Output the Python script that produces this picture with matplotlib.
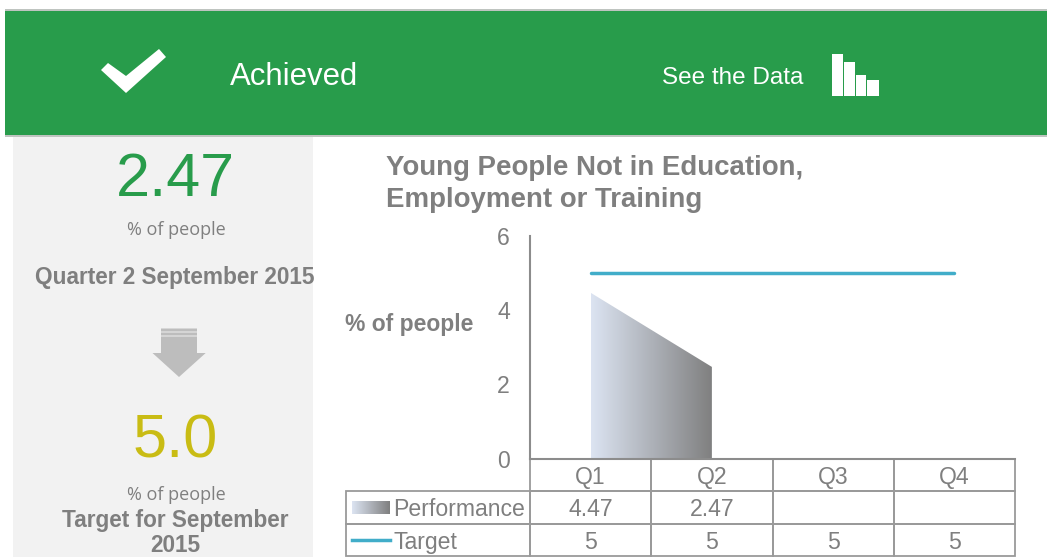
import numpy as np
import matplotlib
matplotlib.use('Agg')
from matplotlib import pyplot as plt
from matplotlib.colors import LinearSegmentedColormap
from matplotlib.patches import Polygon, Rectangle

# Data
quarters = ['Q1', 'Q2', 'Q3', 'Q4']
performance = [4.47, 2.47, None, None]
target = [5, 5, 5, 5]
y_ticks = [0, 2, 4, 6]

GREEN = '#289C4B'
GREY = '#7F7F7F'
W, H = 1047, 557
plt.rcParams['font.family'] = ['Liberation Sans', 'DejaVu Sans']

fig = plt.figure(figsize=(W / 100, H / 100), dpi=100)

# Page layer, in pixels
bg = fig.add_axes([0, 0, 1, 1])
bg.set_xlim(0, W)
bg.set_ylim(H, 0)
bg.axis('off')

bg.add_patch(Rectangle((13, 137), 300, 420, fc='#F2F2F2', ec='none'))
bg.add_patch(Rectangle((5, 9), 1042, 128, fc='#BFC4C0', ec='none'))
bg.add_patch(Rectangle((5, 10.5), 1042, 124, fc=GREEN, ec='none'))

# tick mark, bar icon, arrow
bg.add_patch(Polygon([(101, 70), (108, 63), (126, 76), (159, 49), (166, 57), (126, 93)],
                     fc='white', ec='none'))
for x0, top, w in [(832, 53.5, 10.5), (843.5, 62, 11), (856, 75, 9.5), (867, 80, 11.5)]:
    bg.add_patch(Rectangle((x0, top), w, 95.7 - top, fc='white', ec='none'))
bg.add_patch(Polygon([(161, 328.5), (197, 328.5), (197, 353), (205.7, 353), (179, 377), (152.5, 353), (161, 353)],
                     fc='#BDBDBD', ec='none'))
for y in [331.5, 336]:
    bg.plot([161, 197], [y, y], color='#DADADA', lw=1.2, solid_capstyle='butt')

bg.text(230, 85, 'Achieved', color='white', fontsize=22.4, va='baseline')
bg.text(662, 84, 'See the Data', color='white', fontsize=17.5, va='baseline')

bg.text(175, 196, '2.47', color=GREEN, fontsize=44, ha='center', va='baseline')
bg.text(176, 230, '% of people', color=GREY, fontsize=13, family='Open Sans', ha='center', va='center')
bg.text(174.5, 277.5, 'Quarter 2 September 2015', color=GREY, fontsize=16.3, weight='bold', ha='center', va='center')
bg.text(175.5, 458, '5.0', color='#C9BC14', fontsize=44, ha='center', va='baseline')
bg.text(176, 494.5, '% of people', color=GREY, fontsize=13, family='Open Sans', ha='center', va='center')
bg.text(175, 520, 'Target for September', color=GREY, fontsize=16.3, weight='bold', ha='center', va='center')
bg.text(175, 552, '2015', color=GREY, fontsize=16.3, weight='bold', ha='center', va='baseline')

bg.text(386, 165, 'Young People Not in Education,', color=GREY, fontsize=19.9, weight='bold', va='center_baseline')
bg.text(386, 197, 'Employment or Training', color=GREY, fontsize=19.9, weight='bold', va='center_baseline')
bg.text(345, 322, '% of people', color=GREY, fontsize=16.5, weight='bold', va='center_baseline')

# Chart
left, right, top, bottom = 530, 1015, 236, 458.5
ax = fig.add_axes([left / W, 1 - bottom / H, (right - left) / W, (bottom - top) / H])
ax.patch.set_alpha(0)
ax.set_xlim(-0.5, 3.5)
ax.set_ylim(0, 6)
ax.set_xticks([])
ax.set_yticks(y_ticks)
ax.tick_params(axis='y', length=0, pad=14.5, labelsize=16.6, labelcolor=GREY)
for s in ['top', 'right']:
    ax.spines[s].set_visible(False)
for s in ['left', 'bottom']:
    ax.spines[s].set_color('#8C8C8C')
    ax.spines[s].set_linewidth(1.5)

cmap = LinearSegmentedColormap.from_list('perf', ['#DCE4F2', '#7F7F7F'])
px = [i for i, v in enumerate(performance) if v is not None]
py = [v for v in performance if v is not None]
area = ax.fill_between(px, 0, py, fc='none', ec='none')
grad = ax.imshow(np.linspace(0, 1, 256).reshape(1, -1), cmap=cmap, aspect='auto',
                 extent=(px[0], px[-1], 0, max(py)), zorder=1)
grad.set_clip_path(area.get_paths()[0], transform=ax.transData)
ax.set_xlim(-0.5, 3.5)
ax.set_ylim(0, 6)
ax.plot(range(len(target)), target, color='#41ADC9', lw=2.5, solid_capstyle='round', zorder=2)

# Data table, first column holds the legend labels
tab_left, tab_bottom = 346, 556
cells = [[''] + quarters,
         ['Performance'] + [f'{v}' if v is not None else '' for v in performance],
         ['Target'] + [f'{v}' for v in target]]
first_w = left - tab_left
col_w = (right - left) / len(quarters)
total_w = right - tab_left
table = ax.table(cellText=cells, cellLoc='center',
                 colWidths=[first_w / total_w] + [col_w / total_w] * len(quarters),
                 bbox=[(tab_left - left) / (right - left), (bottom - tab_bottom) / (bottom - top),
                       total_w / (right - left), (tab_bottom - bottom) / (bottom - top)])
table.auto_set_font_size(False)
for (r, c), cell in table.get_celld().items():
    cell.set_edgecolor('#9A9A9A')
    cell.set_linewidth(1.3)
    cell.set_facecolor('none')
    cell.get_text().set_color(GREY)
    cell.get_text().set_fontsize(16.6)
    cell.get_text().set_va('center_baseline')
    if c == 0:
        cell.set_text_props(ha='left')
        cell.PAD = (393 - tab_left) / first_w
table[(0, 0)].set_visible(False)

# legend keys in the table
key = bg.imshow(np.linspace(0, 1, 128).reshape(1, -1), cmap=cmap, aspect='auto',
                extent=(352, 390, 514, 501))
bg.set_xlim(0, W)
bg.set_ylim(H, 0)
bg.plot([352, 390], [539.5, 539.5], color='#41ADC9', lw=2.5)

fig.savefig('out.png', dpi=100)
